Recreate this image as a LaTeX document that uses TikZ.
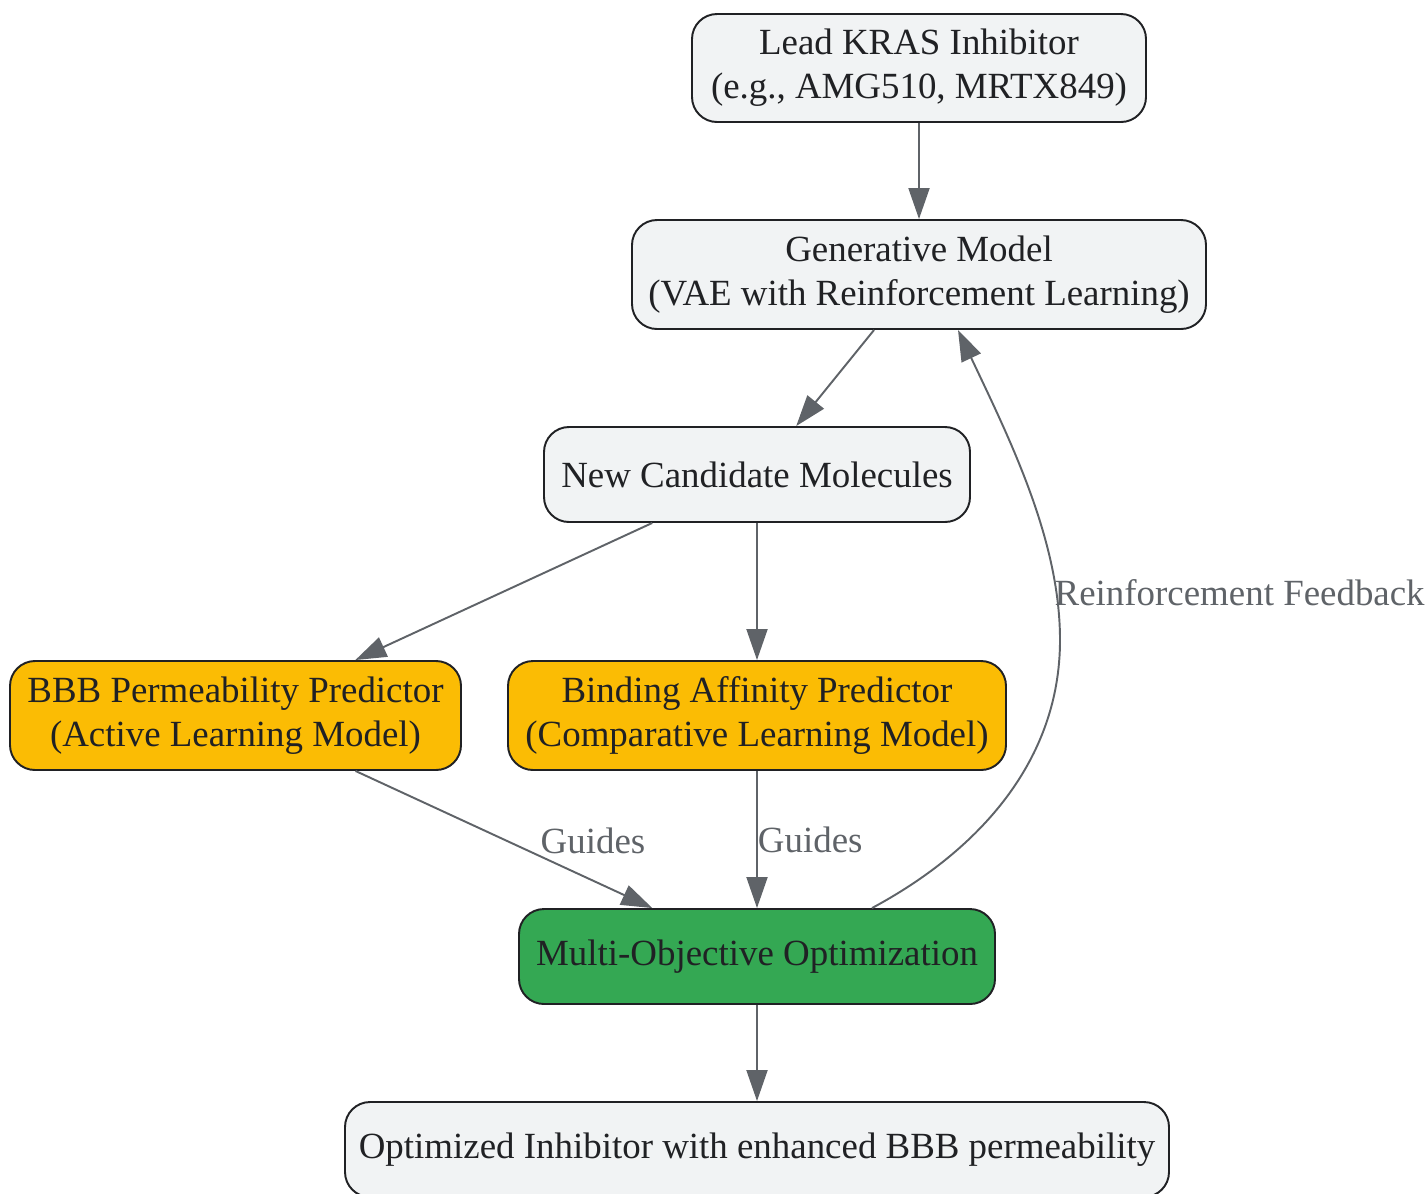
\documentclass[tikz,border=0pt]{standalone}
\usepackage{fontspec}
\setmainfont{Liberation Serif}
\usetikzlibrary{arrows.meta,calc}
\definecolor{boxgray}{HTML}{F1F3F4}
\definecolor{boxline}{HTML}{202124}
\definecolor{edgegray}{HTML}{5F6368}
\definecolor{predyellow}{HTML}{FBBC04}
\definecolor{optgreen}{HTML}{34A853}

\begin{document}
\begin{tikzpicture}[thick,
  box/.style={draw=boxline, line width=1.1pt, fill=boxgray, rounded corners=0.5cm,
    align=center, text=boxline, font=\fontsize{21}{25}\selectfont, inner sep=0pt},
  lbl/.style={text=edgegray, font=\fontsize{21}{25}\selectfont, inner sep=0pt},
  flow/.style={draw=edgegray, line width=1.1pt, -{Triangle[length=0.62cm,width=0.42cm]}}]
\useasboundingbox (0,0) rectangle (28.56,-23.86);

% boxes
\node[box, minimum width=9.08cm, minimum height=2.16cm] (lead) at (18.38,-1.36)
  {Lead KRAS Inhibitor\\(e.g., AMG510, MRTX849)};
\node[box, minimum width=11.48cm, minimum height=2.18cm] (gen) at (18.38,-5.49)
  {Generative Model\\(VAE with Reinforcement Learning)};
\node[box, minimum width=8.52cm, minimum height=1.9cm] (cand) at (15.14,-9.49)
  {New Candidate Molecules};
\node[box, fill=predyellow, minimum width=9.02cm, minimum height=2.18cm] (bbb) at (4.71,-14.31)
  {BBB Permeability Predictor\\(Active Learning Model)};
\node[box, fill=predyellow, minimum width=9.96cm, minimum height=2.18cm] (bind) at (15.14,-14.31)
  {Binding Affinity Predictor\\(Comparative Learning Model)};
\node[box, fill=optgreen, minimum width=9.52cm, minimum height=1.9cm] (moo) at (15.14,-19.13)
  {Multi-Objective Optimization};
\node[box, minimum width=16.48cm, minimum height=1.9cm] (opt) at (15.14,-22.99)
  {Optimized Inhibitor with enhanced BBB permeability};

% connectors
\draw[flow] (lead) -- (gen);
\draw[flow] (gen) -- (cand);
\draw[flow] (cand) -- (bbb);
\draw[flow] (cand) -- (bind);
\draw[flow] (bbb) -- (moo) node[lbl, pos=0.8, yshift=0.8cm] {Guides};
\draw[flow] (bind) -- (moo) node[lbl, midway, anchor=west] {Guides};
\draw[flow] (moo) -- (opt);
\draw[flow] ($(moo.north)+(2.3,0)$) .. controls (19.6,-17.0) and (21.2,-15.2) .. (21.2,-12.8)
  .. controls (21.2,-10.8) and (20.2,-8.8) .. ($(gen.south)+(0.78,0)$);
\node[lbl, anchor=west] (fb) at (21.08,-11.86) {Reinforcement Feedback};
\end{tikzpicture}
\end{document}
